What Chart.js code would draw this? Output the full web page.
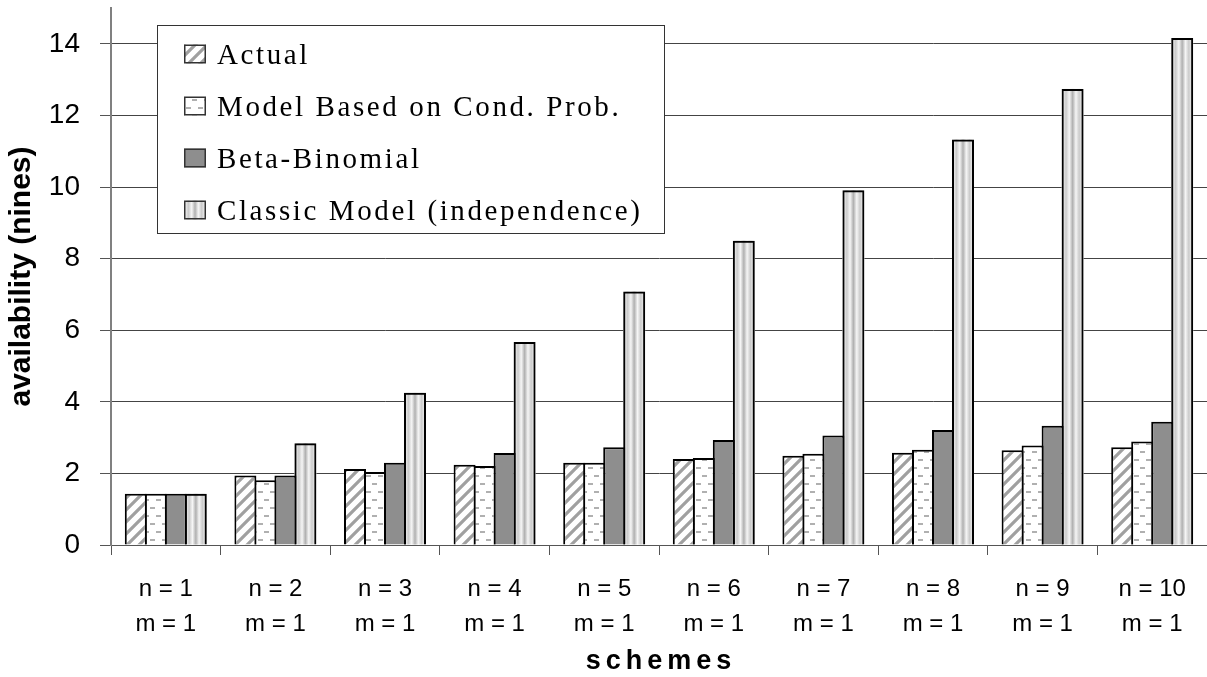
<!DOCTYPE html>
<html>
<head>
<meta charset="utf-8">
<script src="https://cdn.jsdelivr.net/npm/chart.js@4.4.1/dist/chart.umd.min.js"></script>
<style>
  html, body { margin: 0; padding: 0; background: #fff; }
  canvas { display: block; }
</style>
</head>
<body>
<canvas id="chart" width="1207" height="677"></canvas>
<script>
// datos
const nValues = ["n = 1", "n = 2", "n = 3", "n = 4", "n = 5", "n = 6", "n = 7", "n = 8", "n = 9", "n = 10"];
const mValues = ["m = 1", "m = 1", "m = 1", "m = 1", "m = 1", "m = 1", "m = 1", "m = 1", "m = 1", "m = 1"];
const seriesNames = ["Actual", "Model Based on Cond. Prob.", "Beta-Binomial", "Classic Model (independence)"];
const actual = [1.43, 1.94, 2.12, 2.24, 2.30, 2.40, 2.49, 2.58, 2.65, 2.73];
const condProb = [1.43, 1.81, 2.04, 2.21, 2.30, 2.43, 2.55, 2.66, 2.78, 2.89];
const betaBinomial = [1.43, 1.94, 2.30, 2.57, 2.73, 2.93, 3.06, 3.21, 3.33, 3.44];
const classic = [1.43, 2.84, 4.25, 5.67, 7.08, 8.50, 9.91, 11.33, 12.74, 14.16];
const yTicks = [0, 2, 4, 6, 8, 10, 12, 14];

const labels = nValues.map((n, i) => [n, mValues[i]]);

// patrones de relleno
function makeTile(w, h, draw) {
  const c = document.createElement("canvas");
  c.width = w; c.height = h;
  const g = c.getContext("2d");
  g.fillStyle = "#fff";
  g.fillRect(0, 0, w, h);
  draw(g);
  return c;
}
const ctx = document.getElementById("chart").getContext("2d");

const hatchTile = makeTile(12, 12, g => {
  g.strokeStyle = "#a0a0a0";
  g.lineWidth = 3.2;
  g.beginPath();
  g.moveTo(-3, 15); g.lineTo(15, -3);
  g.moveTo(-9, 9); g.lineTo(9, -9);
  g.moveTo(3, 21); g.lineTo(21, 3);
  g.stroke();
});
const dashTile = makeTile(12, 16, g => {
  g.strokeStyle = "#b0b0b0";
  g.lineWidth = 2;
  g.beginPath();
  g.moveTo(0, 4); g.lineTo(5, 4);
  g.moveTo(6, 12); g.lineTo(11, 12);
  g.stroke();
});
const hatchPattern = ctx.createPattern(hatchTile, "repeat");
const dashPattern = ctx.createPattern(dashTile, "repeat");
const betaColor = "#8e8e8e";

function stripeGradient(g, x0, x1) {
  const gr = g.createLinearGradient(x0, 0, x1, 0);
  gr.addColorStop(0, "#ffffff");
  gr.addColorStop(0.2, "#cbcbcb");
  gr.addColorStop(0.35, "#f5f5f5");
  gr.addColorStop(0.5, "#b0b0b0");
  gr.addColorStop(0.65, "#f5f5f5");
  gr.addColorStop(0.8, "#cbcbcb");
  gr.addColorStop(1, "#ffffff");
  return gr;
}

// relleno a rayas verticales para el modelo clasico (por barra)
const stripesPlugin = {
  id: "stripes",
  beforeDatasetDraw(chart, args) {
    if (args.index !== 3) return;
    const g = chart.ctx;
    g.save();
    args.meta.data.forEach(el => {
      const p = el.getProps(["x", "y", "base", "width"], true);
      const x0 = p.x - p.width / 2;
      g.fillStyle = stripeGradient(g, x0, x0 + p.width);
      g.fillRect(x0, p.y, p.width, p.base - p.y);
    });
    g.restore();
  }
};

// leyenda dentro del grafico y titulo del eje x con espaciado
const legendPlugin = {
  id: "boxLegend",
  afterDraw(chart) {
    const g = chart.ctx;
    g.save();
    const bx = 157, by = 25, bw = 507, bh = 208;
    g.fillStyle = "#fff";
    g.fillRect(bx, by, bw, bh);
    g.strokeStyle = "#333";
    g.lineWidth = 1;
    g.strokeRect(bx + 0.5, by + 0.5, bw, bh);

    g.font = "29px 'Liberation Serif', 'Times New Roman', serif";
    g.letterSpacing = "2.6px";
    g.textBaseline = "alphabetic";
    g.textAlign = "left";
    chart.data.datasets.forEach((ds, i) => {
      const cy = 54 + i * 52;
      const sx = 184, sw = 22, sh = 19;
      if (i === 3) {
        g.fillStyle = stripeGradient(g, sx, sx + sw);
      } else {
        g.fillStyle = ds.backgroundColor;
      }
      g.fillRect(sx, cy - sh / 2, sw, sh);
      g.strokeStyle = "#333";
      g.lineWidth = 1.5;
      g.strokeRect(sx + 0.75, cy - sh / 2 + 0.75, sw - 1.5, sh - 1.5);
      g.fillStyle = "#000";
      g.fillText(ds.label, 217, cy + 10);
    });

    const xs = chart.scales.x;
    g.font = "bold 27px 'Liberation Sans', Arial, sans-serif";
    g.letterSpacing = "5px";
    g.textAlign = "center";
    g.textBaseline = "middle";
    g.fillText("schemes", (xs.left + xs.right) / 2 + 2, 662);
    g.restore();
  }
};

const common = {
  borderColor: "#000",
  borderWidth: 2,
  categoryPercentage: 0.73,
  barPercentage: 1.1
};

new Chart(ctx, {
  type: "bar",
  data: {
    labels: labels,
    datasets: [
      { label: seriesNames[0], data: actual, backgroundColor: hatchPattern, ...common },
      { label: seriesNames[1], data: condProb, backgroundColor: dashPattern, ...common },
      { label: seriesNames[2], data: betaBinomial, backgroundColor: betaColor, ...common },
      { label: seriesNames[3], data: classic, backgroundColor: "rgba(0,0,0,0)", ...common }
    ]
  },
  options: {
    responsive: false,
    animation: false,
    devicePixelRatio: 1,
    layout: { padding: { top: 8, left: 0, right: 0, bottom: 0 } },
    plugins: {
      legend: { display: false },
      tooltip: { enabled: false }
    },
    scales: {
      x: {
        grid: {
          offset: true,
          drawOnChartArea: false,
          drawTicks: true,
          tickLength: 10,
          color: "#555"
        },
        border: { color: "#555", width: 1 },
        ticks: {
          color: "#000",
          padding: 17,
          maxRotation: 0,
          autoSkip: false,
          font: { family: "'Liberation Sans', Arial, sans-serif", size: 24, lineHeight: 1.45 }
        },
        afterFit(scale) {
          scale.height = 132;
          scale.paddingLeft = 0;
          scale.paddingRight = 0;
        }
      },
      y: {
        min: 0,
        max: 15,
        afterBuildTicks(scale) {
          scale.ticks = yTicks.map(v => ({ value: v }));
        },
        grid: {
          color: "#444",
          lineWidth: 1,
          drawTicks: true,
          tickLength: 11,
          tickColor: "#555"
        },
        border: { color: "#808080", width: 2 },
        ticks: {
          color: "#000",
          padding: 20,
          font: { family: "'Liberation Sans', Arial, sans-serif", size: 28 }
        },
        title: {
          display: true,
          text: "availability (nines)",
          color: "#000",
          padding: { top: 4, bottom: 0 },
          font: { family: "'Liberation Sans', Arial, sans-serif", size: 30, weight: "bold" }
        },
        afterFit(scale) {
          scale.width = 111;
          scale.paddingTop = 0;
          scale.paddingBottom = 0;
        }
      }
    }
  },
  plugins: [stripesPlugin, legendPlugin]
});
</script>
</body>
</html>
